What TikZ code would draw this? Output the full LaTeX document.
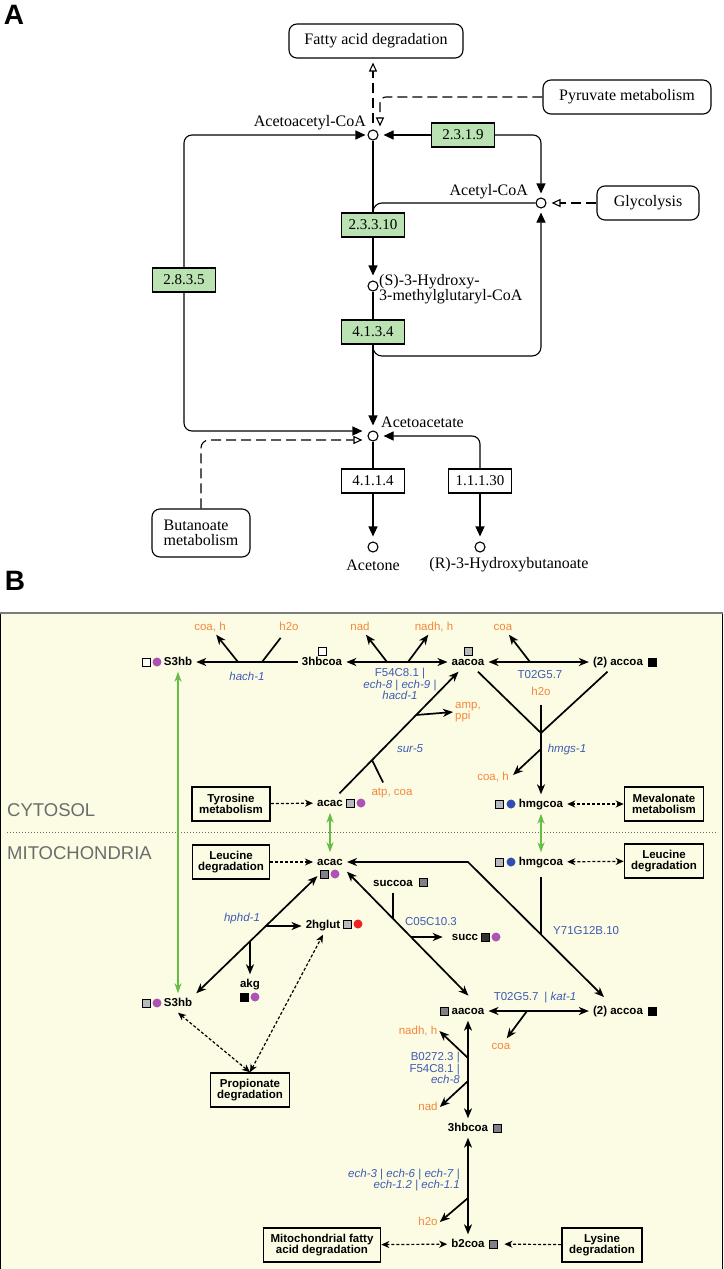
\documentclass[tikz,border=0pt]{standalone}
\usepackage{fontspec}
\setmainfont{Liberation Serif}
\setsansfont{Liberation Sans}
\usetikzlibrary{arrows.meta}

\definecolor{ecgreen}{RGB}{186,226,178}
\definecolor{bgyellow}{RGB}{252,252,228}
\definecolor{sideorange}{RGB}{245,135,60}
\definecolor{geneblue}{RGB}{62,90,180}
\definecolor{linkgreen}{RGB}{102,190,70}
\definecolor{dotmagenta}{RGB}{172,84,182}
\definecolor{dotblue}{RGB}{48,78,178}
\definecolor{dotred}{RGB}{238,36,36}
\definecolor{sqlight}{RGB}{184,186,192}
\definecolor{sqdark}{RGB}{128,128,134}
\definecolor{compgray}{RGB}{108,108,108}

\newcommand{\fA}{\fontsize{16}{13}\selectfont}
\newcommand{\fAbox}{\fontsize{16}{15.5}\selectfont}
\newcommand{\fEC}{\fontsize{15}{15}\selectfont}
\newcommand{\fB}{\sffamily\fontsize{11.5}{10.5}\selectfont}

\tikzset{
  met/.style={circle,draw,line width=1.1,fill=white,inner sep=0,minimum size=10},
  ecbox/.style={draw,line width=1.1,inner sep=0,minimum width=63,minimum height=24,font=\fEC},
  mapbox/.style={draw,line width=1.1,rounded corners=8,inner sep=0,minimum height=34,font=\fAbox},
  metlabel/.style={font=\fA,inner sep=0},
  rxnA/.style={line width=1.1,>={Triangle[length=10,width=9]}},
  linkA/.style={line width=1.1,dash pattern=on 10 off 5},
  opentip/.style={-{Triangle[open,length=9,width=8]}},
  cpd/.style={font=\fB\bfseries,inner sep=4,text height=8.5,text depth=2.5},
  sidecpd/.style={font=\fB,text=sideorange,inner sep=2,text height=8.5,text depth=2.5},
  gene/.style={font=\fB,text=geneblue,inner sep=1,align=center},
  geneit/.style={gene,font=\fB\itshape},
  pathbox/.style={draw,line width=1.6,align=center,font=\fB\bfseries,minimum height=34,inner sep=0},
  rxn/.style={line width=1.7,>={Stealth[length=10,width=8,inset=3]}},
  dashlink/.style={line width=1.2,dash pattern=on 3 off 2,>={Stealth[length=8,width=7,inset=2.5]}},
  greenlink/.style={draw=linkgreen,line width=1.5,>={Stealth[length=10,width=7,inset=3,linkgreen]}},
  sq/.style={draw,line width=0.8,inner sep=0,minimum size=8},
  mdot/.style={circle,inner sep=0,minimum size=9},
  compart/.style={font=\sffamily\fontsize{18.5}{20}\selectfont,text=compgray,anchor=west,inner sep=0},
  panel/.style={font=\sffamily\bfseries\fontsize{28}{28}\selectfont,inner sep=0},
}

\begin{document}
\begin{tikzpicture}[x=1pt,y=-1pt]
\useasboundingbox (0,0) rectangle (723,1269);

% ---------------- panel A ----------------
\node[panel] (labA) at (14,15) {A};

\node[mapbox,minimum width=174] (fad) at (376,41) {Fatty acid degradation};
\node[mapbox,minimum width=168] (pyr) at (627,97) {Pyruvate metabolism};
\node[mapbox,minimum width=102] (gly) at (648,203) {Glycolysis};
\node[mapbox,minimum width=98,minimum height=48,align=left] (but) at (201,533) {Butanoate\\metabolism};

\node[met] (acacoa) at (373,135) {};
\node[met] (accoa) at (541,203) {};
\node[met] (hmgcoa) at (373,286) {};
\node[met] (acac) at (373,436) {};
\node[met] (acetone) at (373,547) {};
\node[met] (bhb) at (480,547) {};

\node[metlabel,anchor=east] (lacacoa) at (366,123) {Acetoacetyl-CoA};
\node[metlabel,anchor=east] (laccoa) at (528,192) {Acetyl-CoA};
\node[metlabel,anchor=west,align=left] (lhmgcoa) at (379,289) {(S)-3-Hydroxy-\\3-methylglutaryl-CoA};
\node[metlabel,anchor=west] (lacac) at (381,422) {Acetoacetate};
\node[metlabel] (lacetone) at (373,565) {Acetone};
\node[metlabel] (lbhb) at (509,565) {(R)-3-Hydroxybutanoate};

\node[ecbox,fill=ecgreen] (e2319) at (463,135) {2.3.1.9};
\node[ecbox,fill=ecgreen] (e23310) at (373,225) {2.3.3.10};
\node[ecbox,fill=ecgreen] (e4134) at (373,332) {4.1.3.4};
\node[ecbox,fill=ecgreen] (e2835) at (184,280) {2.8.3.5};
\node[ecbox,fill=white] (e4114) at (373,481) {4.1.1.4};
\node[ecbox,fill=white] (e11130) at (480,481) {1.1.1.30};

\begin{scope}[rxnA]
  \draw[<-,shorten <=5] (acacoa.east) -- (e2319.west);
  \draw[->,rounded corners=8,shorten >=4] (e2319.east) -| (accoa.north);
  \draw[<-,rounded corners=8,shorten <=2] (acacoa.west) -| (e2835.north);
  \draw[->,rounded corners=8,shorten >=5] (e2835.south) |- ([yshift=5]acac.west);
  \draw (acacoa) -- (e23310);
  \draw[->,shorten >=5] (e23310) -- (hmgcoa);
  \draw[rounded corners=9] (accoa.west) -| (e23310.north);
  \draw (hmgcoa) -- (e4134);
  \draw[->,shorten >=5] (e4134) -- (acac);
  \coordinate (hmgturn) at (541,356);
  \draw[->,rounded corners=9,shorten >=4] (e4134.south) |- (hmgturn) -- (accoa.south);
  \draw[<-,rounded corners=8,shorten <=5] (acac.east) -| (e11130.north);
  \draw[->,shorten >=5] (e11130) -- (bhb);
  \draw (acac) -- (e4114);
  \draw[->,shorten >=5] (e4114) -- (acetone);
\end{scope}

\draw[linkA,opentip,shorten <=6,shorten >=4] (acacoa.north) -- (acacoa.north |- fad.south);
\draw[linkA,opentip,rounded corners=6,shorten >=3] (pyr.west) -| ([xshift=7]acacoa.north);
\draw[linkA,opentip,shorten >=5] (gly.west) -- (accoa.east);
\draw[linkA,opentip,rounded corners=8,shorten >=5] (but.north) |- ([yshift=-4]acac.west);

% ---------------- panel B ----------------
\node[panel] (labB) at (15,581) {B};
\fill[bgyellow] (0,613) rectangle (723,1269);
\draw[line width=1] (0.5,613) -- (0.5,1269) (722.5,613) -- (722.5,1269);
\draw[compgray!90,line width=2.5] (0,613) -- (723,613);
\draw[compgray,line width=1,dash pattern=on 1.2 off 1.8] (7,832) -- (718,832);

\node[compart] (cyto) at (7,810) {CYTOSOL};
\node[compart] (mito) at (7,853) {MITOCHONDRIA};

% pathway boxes
\node[pathbox,minimum width=78] (tyr) at (231,804) {Tyrosine\\metabolism};
\node[pathbox,minimum width=79] (mev) at (664,804) {Mevalonate\\metabolism};
\node[pathbox,minimum width=77] (leuL) at (231,862) {Leucine\\degradation};
\node[pathbox,minimum width=79] (leuR) at (664,861) {Leucine\\degradation};
\node[pathbox,minimum width=79] (prop) at (250,1090) {Propionate\\degradation};
\node[pathbox,minimum width=117] (mfad) at (322,1245) {Mitochondrial fatty\\acid degradation};
\node[pathbox,minimum width=80] (lys) at (602,1245) {Lysine\\degradation};

% cytosol compounds
\node[cpd] (s3hbC) at (178,662) {S3hb};
\node[sq,fill=white] (s3hbCsq) at (146,662) {};
\node[mdot,fill=dotmagenta] (s3hbCdot) at (157,662) {};
\node[cpd] (hbcoaC) at (322,662) {3hbcoa};
\node[sq,fill=white] (hbcoaCsq) at (322,651) {};
\node[cpd] (aacoaC) at (468,662) {aacoa};
\node[sq,fill=sqlight] (aacoaCsq) at (468,651) {};
\node[cpd] (accoaC) at (618,662) {(2) accoa};
\node[sq,fill=black] (accoaCsq) at (652,662) {};
\node[cpd] (acacC) at (330,803) {acac};
\node[sq,fill=sqlight] (acacCsq) at (350,803) {};
\node[mdot,fill=dotmagenta] (acacCdot) at (361,803) {};
\node[cpd] (hmgcoaC) at (541,804) {hmgcoa};
\node[sq,fill=sqlight] (hmgcoaCsq) at (499,804) {};
\node[mdot,fill=dotblue] (hmgcoaCdot) at (511,804) {};

% mitochondria compounds
\node[cpd] (acacM) at (330,862) {acac};
\node[sq,fill=sqdark] (acacMsq) at (324,874) {};
\node[mdot,fill=dotmagenta] (acacMdot) at (335,874) {};
\node[cpd] (hmgcoaM) at (541,862) {hmgcoa};
\node[sq,fill=sqlight] (hmgcoaMsq) at (499,862) {};
\node[mdot,fill=dotblue] (hmgcoaMdot) at (511,862) {};
\node[cpd] (succoa) at (393,883) {succoa};
\node[sq,fill=sqdark] (succoasq) at (423,882) {};
\node[cpd] (hglut) at (323,925) {2hglut};
\node[sq,fill=sqlight] (hglutsq) at (347,924) {};
\node[mdot,fill=dotred] (hglutdot) at (358,924) {};
\node[cpd] (succ) at (465,937) {succ};
\node[sq,fill=black!80] (succsq) at (485,937) {};
\node[mdot,fill=dotmagenta] (succdot) at (496,937) {};
\node[cpd] (akg) at (250,984) {akg};
\node[sq,fill=black] (akgsq) at (244,997) {};
\node[mdot,fill=dotmagenta] (akgdot) at (255,997) {};
\node[cpd] (s3hbM) at (178,1003) {S3hb};
\node[sq,fill=sqlight] (s3hbMsq) at (146,1003) {};
\node[mdot,fill=dotmagenta] (s3hbMdot) at (157,1003) {};
\node[cpd] (aacoaM) at (468,1011) {aacoa};
\node[sq,fill=sqdark] (aacoaMsq) at (444,1011) {};
\node[cpd] (accoaM) at (618,1011) {(2) accoa};
\node[sq,fill=black] (accoaMsq) at (652,1011) {};
\node[cpd] (hbcoaM) at (468,1128) {3hbcoa};
\node[sq,fill=sqdark] (hbcoaMsq) at (497,1128) {};
\node[cpd] (b2coa) at (468,1244) {b2coa};
\node[sq,fill=sqdark] (b2coasq) at (493,1244) {};

% side compounds
\node[sidecpd] (coahA) at (210,627) {coa, h};
\node[sidecpd] (h2oA) at (289,627) {h2o};
\node[sidecpd] (nadA) at (360,627) {nad};
\node[sidecpd] (nadhA) at (434,627) {nadh, h};
\node[sidecpd] (coaA) at (503,627) {coa};
\node[sidecpd] (h2oB) at (541,692) {h2o};
\node[sidecpd] (coahB) at (493,777) {coa, h};
\node[font=\fB,text=sideorange,inner sep=2,align=left,anchor=west] (ampA) at (453,712) {amp,\\ppi};
\node[sidecpd] (atpA) at (392,792) {atp, coa};
\node[sidecpd] (coaB) at (501,1046) {coa};
\node[sidecpd] (nadhB) at (418,1031) {nadh, h};
\node[sidecpd] (nadB) at (428,1107) {nad};
\node[sidecpd] (h2oC) at (428,1222) {h2o};

% genes
\node[geneit] (hach) at (247,676) {hach-1};
\node[gene] (f54A) at (400,684) {F54C8.1 |\\\textit{ech-8} | \textit{ech-9} |\\\textit{hacd-1}};
\node[gene] (t02A) at (540,675) {T02G5.7};
\node[geneit] (hmgs) at (567,750) {hmgs-1};
\node[geneit] (sur5) at (410,749) {sur-5};
\node[geneit] (hphd) at (242,919) {hphd-1};
\node[gene] (c05) at (431,922) {C05C10.3};
\node[gene,anchor=west] (y71) at (552,931) {Y71G12B.10};
\node[gene] (t02B) at (535,998) {T02G5.7\hspace{6pt}| \textit{kat-1}};
\node[gene,align=right,anchor=east] (b027) at (461,1068) {B0272.3 |\\F54C8.1 |\\\textit{ech-8}};
\node[gene,align=right,anchor=east] (ech3) at (461,1180) {\textit{ech-3} | \textit{ech-6} | \textit{ech-7} |\\\textit{ech-1.2} | \textit{ech-1.1}};

\begin{scope}[rxn]
  % cytosol
  \coordinate (hachJ1) at (238,662);
  \coordinate (hachJ2) at (262,662);
  \draw[->] (hbcoaC) -- (s3hbC);
  \draw[->] (hachJ1) -- (coahA);
  \draw[shorten >=4] (hachJ2) -- (h2oA);
  \coordinate (f54J1) at (387,662);
  \coordinate (f54J2) at (408,662);
  \draw[<->] (hbcoaC) -- (aacoaC);
  \draw[->] (f54J1) -- (nadA);
  \draw[->] (f54J2) -- (nadhA);
  \coordinate (t02J) at (530,662);
  \draw[<->] (aacoaC) -- (accoaC);
  \draw[->] (t02J) -- (coaA);
  \coordinate (hmgsJ) at (541,733);
  \coordinate (hmgsJ2) at (541,749);
  \draw (aacoaC) -- (hmgsJ) -- (accoaC);
  \draw[->,shorten <=5] (h2oB) -- (hmgcoaC);
  \draw[->,shorten >=3] (hmgsJ2) -- (coahB.east);
  \coordinate (sur5J1) at (372,760);
  \coordinate (sur5J2) at (416,715);
  \draw[->] (acacC) -- (aacoaC);
  \draw[shorten >=2] (sur5J1) -- ([xshift=-8]atpA.north);
  \draw[->] (sur5J2) -- (ampA.west);
  % mitochondria
  \coordinate (y71turn) at (468,862);
  \coordinate (y71J) at (541,934.5);
  \draw[<->,shorten >=6] (acacM) -- (y71turn) -- (accoaM);
  \draw[shorten <=5] (hmgcoaM) -- (y71J);
  \coordinate (c05J1) at (393,919);
  \coordinate (c05J2) at (411,937);
  \draw[<->,shorten >=8] (acacM.south east) -- ([xshift=6]aacoaM.north);
  \draw (succoa) -- (c05J1);
  \draw[->,shorten >=5] (c05J2) -- (c05J2 -| succ.west);
  \coordinate (hphdJ1) at (265,926);
  \coordinate (hphdJ2) at (250,941);
  \draw[<->,shorten >=3] (s3hbM.north east) -- (acacMsq.west);
  \draw[->] (hphdJ1) -- (hphdJ1 -| hglut.west);
  \draw[->] (hphdJ2) -- (hphdJ2 |- akg.north);
  \coordinate (t02J2) at (527,1011);
  \draw[<->] (aacoaM) -- (accoaM);
  \draw[->] (t02J2) -- (coaB);
  \coordinate (b027J1) at (468,1058);
  \coordinate (b027J2) at (468,1081);
  \draw[<->] (aacoaM) -- (hbcoaM);
  \draw[->] (b027J1) -- (nadhB.east);
  \draw[->] (b027J2) -- (nadB.east);
  \coordinate (ech3J) at (468,1198);
  \draw[<->] (hbcoaM) -- (b2coa);
  \draw[->] (ech3J) -- (h2oC.east);
\end{scope}

% pathway links
\draw[dashlink,->] (tyr) -- (acacC);
\draw[dashlink,<->] (hmgcoaC) -- (mev);
\draw[dashlink,->] (leuL) -- (acacM);
\draw[dashlink,<->] (hmgcoaM) -- (leuR);
\draw[dashlink,<->] (s3hbM.south) -- (prop.north);
\draw[dashlink,<->] (prop.north) -- (hglut.south);
\draw[dashlink,<->] (mfad) -- (b2coa);
\draw[dashlink,->,shorten >=7] (lys) -- (b2coasq);

% transport
\draw[greenlink,<->] (s3hbC) -- (s3hbM);
\draw[greenlink,<->] (acacC) -- (acacM);
\draw[greenlink,<->] (hmgcoaC) -- (hmgcoaM);
\end{tikzpicture}
\end{document}
